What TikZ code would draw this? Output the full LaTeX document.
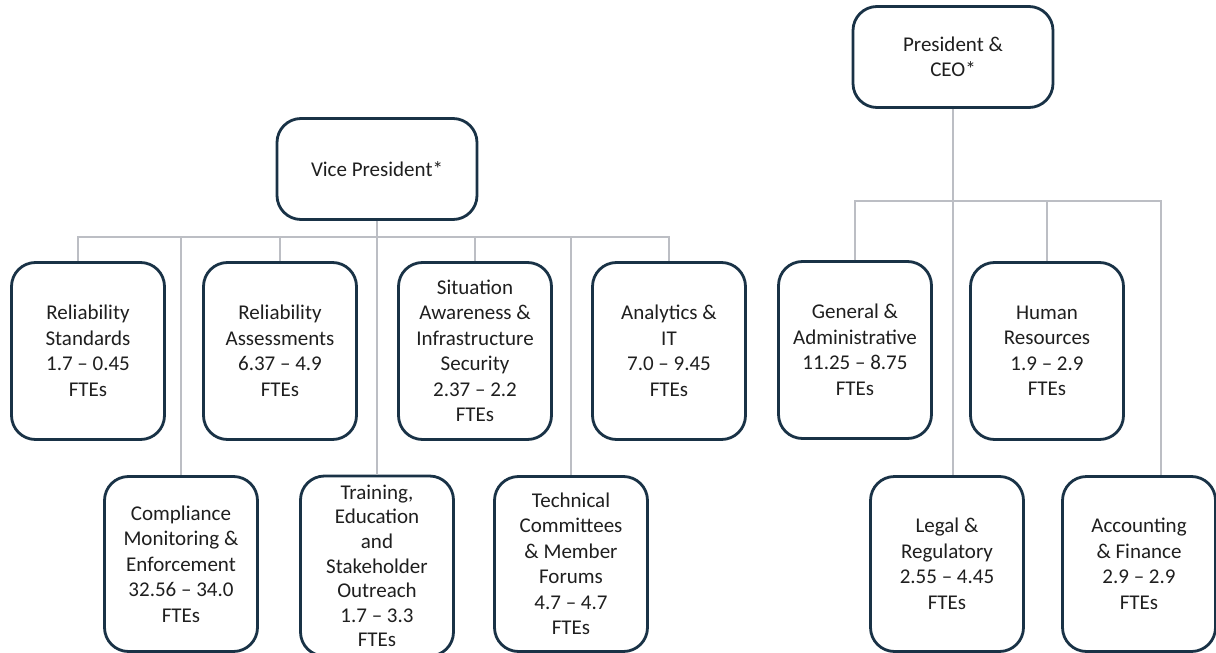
\documentclass[tikz,border=0pt]{standalone}
\usepackage{fontspec}
\setmainfont{Carlito}
\definecolor{boxline}{RGB}{25,50,70}
\definecolor{linkgray}{RGB}{188,190,196}
\tikzset{
  unit/.style={draw=boxline, line width=2.8pt, rounded corners=24pt, fill=white,
    minimum width=153pt, minimum height=177pt, align=center, inner sep=2pt,
    font=\fontsize{21}{25.5}\selectfont, text=black!88},
  head/.style={unit, minimum width=200pt, minimum height=101pt},
  link/.style={draw=linkgray, line width=1.8pt}
}
\begin{document}
\begin{tikzpicture}[x=1pt, y=-1pt]
\useasboundingbox (0,0) rectangle (1216,653);
\clip (0,0) rectangle (1216,653);
\coordinate (lbus) at (0,237);
\coordinate (rbus) at (0,201);
\node[head] (vp) at (377,169) {Vice President*};
\node[head] (pr) at (953,57) {President \&\\CEO*};
\node[unit] (rs) at (88,351) {Reliability\\Standards\\1.7 -- 0.45\\FTEs};
\node[unit] (ra) at (280,351) {Reliability\\Assessments\\6.37 -- 4.9\\FTEs};
\node[unit] (sa) at (475,351) {Situation\\Awareness \&\\Infrastructure\\Security\\2.37 -- 2.2\\FTEs};
\node[unit] (an) at (669,351) {Analytics \&\\IT\\7.0 -- 9.45\\FTEs};
\node[unit, minimum height=175pt] (cm) at (181,564) {Compliance\\Monitoring \&\\Enforcement\\32.56 -- 34.0\\FTEs};
\node[unit, minimum height=180pt, font=\fontsize{21}{24.6}\selectfont] (tr) at (377,566) {Training,\\Education\\and\\Stakeholder\\Outreach\\1.7 -- 3.3\\FTEs};
\node[unit, minimum height=175pt] (tc) at (571,564) {Technical\\Committees\\\& Member\\Forums\\4.7 -- 4.7\\FTEs};
\node[unit] (ga) at (855,350) {General \&\\Administrative\\11.25 -- 8.75\\FTEs};
\node[unit] (hr) at (1047,351) {Human\\Resources\\1.9 -- 2.9\\FTEs};
\node[unit, minimum height=175pt] (lr) at (947,564) {Legal \&\\Regulatory\\2.55 -- 4.45\\FTEs};
\node[unit, minimum height=175pt] (af) at (1139,564) {Accounting\\\& Finance\\2.9 -- 2.9\\FTEs};
\coordinate (rsdrop) at ([xshift=-10pt]rs.north);
\coordinate (lrdrop) at ([xshift=6pt]lr.north);
\coordinate (afdrop) at ([xshift=22pt]af.north);
\draw[link] (vp) -- (tr);
\draw[link] (rsdrop) |- (lbus -| an.north) -- (an.north);
\foreach \b in {cm,ra,sa,tc}
  \draw[link] (\b.north) -- (\b.north |- lbus);
\draw[link] (pr.south) -- (lrdrop);
\draw[link] (ga.north) |- (rbus -| afdrop) -- (afdrop);
\draw[link] (hr.north) -- (hr.north |- rbus);
\end{tikzpicture}
\end{document}
